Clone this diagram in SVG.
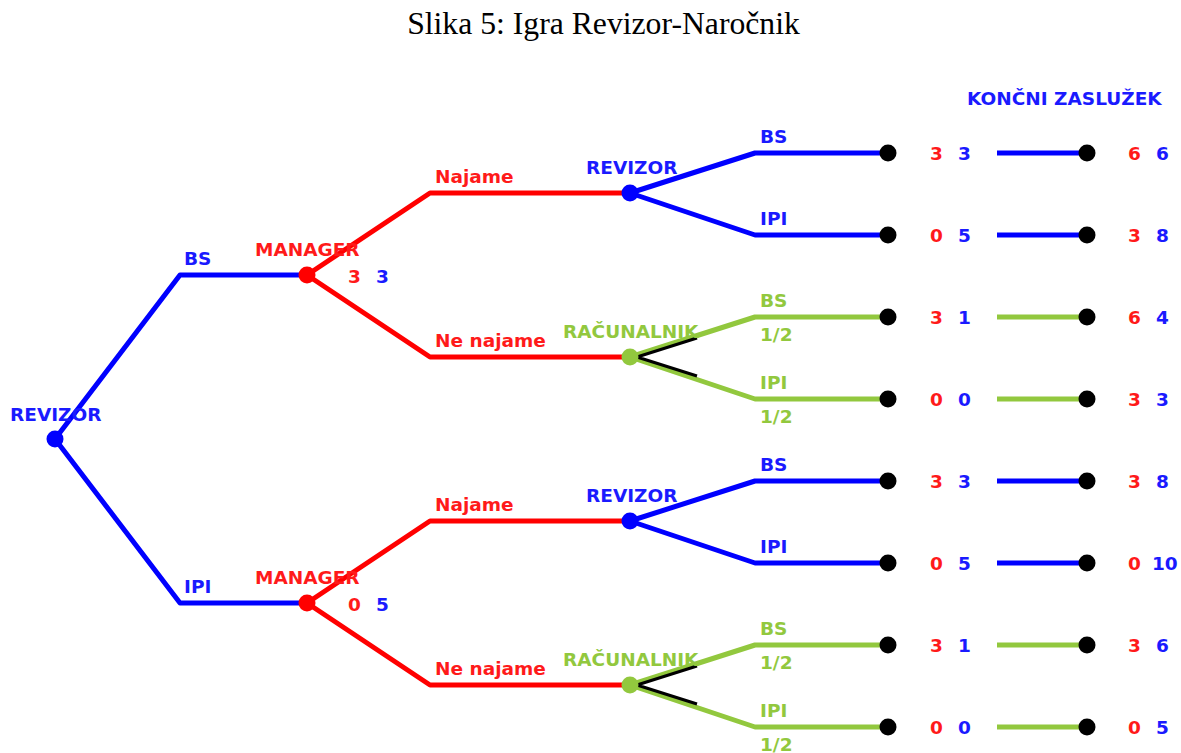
<svg xmlns="http://www.w3.org/2000/svg" width="1181" height="753" viewBox="0 0 1181 753">
<style>
.t{font-family:"DejaVu Sans",sans-serif;font-weight:bold;font-size:18.5px}
.b{fill:#1a1aff}.r{fill:#ff1a1a}.g{fill:#92c83e}
.lb{stroke:#0000ff;stroke-width:5;fill:none;stroke-linejoin:round}
.lr{stroke:#ff0000;stroke-width:5;fill:none;stroke-linejoin:round}
.lg{stroke:#92c83e;stroke-width:5;fill:none;stroke-linejoin:round}
.lk{stroke:#000;stroke-width:3;fill:none}
</style>
<rect width="1181" height="753" fill="#fff"/>
<text x="603.5" y="34" font-family="Liberation Serif,serif" font-size="31.7" text-anchor="middle">Slika 5: Igra Revizor-Naročnik</text>
<text class="t b" x="967" y="105">KONČNI ZASLUŽEK</text>
<g id="connectors">
<path class="lb" d="M55,439 L180,275 H307"/>
<path class="lb" d="M55,439 L180,603 H307"/>
<path class="lr" d="M307,275 L430,193 H630"/>
<path class="lr" d="M307,275 L430,357 H630"/>
<path class="lr" d="M307,603 L430,521 H630"/>
<path class="lr" d="M307,603 L430,685 H630"/>
<path class="lb" d="M630,193 L755,153 H888"/>
<path class="lb" d="M630,193 L755,235 H888"/>
<path class="lg" d="M630,357 L755,317 H888"/>
<path class="lg" d="M630,357 L755,399 H888"/>
<path class="lk" d="M637,357 L697,338 M637,357 L697,376"/>
<path class="lb" d="M630,521 L755,481 H888"/>
<path class="lb" d="M630,521 L755,563 H888"/>
<path class="lg" d="M630,685 L755,645 H888"/>
<path class="lg" d="M630,685 L755,727 H888"/>
<path class="lk" d="M637,685 L697,666 M637,685 L697,704"/>
<path class="lb" d="M997,153 H1087 M997,235 H1087 M997,481 H1087 M997,563 H1087"/>
<path class="lg" d="M997,317 H1087 M997,399 H1087 M997,645 H1087 M997,727 H1087"/>
</g>
<g id="root"><circle cx="55" cy="439" r="8.5" fill="#0000ff"/><text class="t b" x="10" y="421">REVIZOR</text></g>
<g id="edgeLabels">
<text class="t b" x="184" y="265">BS</text>
<text class="t b" x="184" y="593">IPI</text>
<text class="t r" x="435" y="183">Najame</text>
<text class="t r" x="435" y="347">Ne najame</text>
<text class="t r" x="435" y="511">Najame</text>
<text class="t r" x="435" y="675">Ne najame</text>
<text class="t b" x="760" y="143">BS</text>
<text class="t b" x="760" y="225">IPI</text>
<text class="t g" x="760" y="307">BS</text>
<text class="t g" x="760" y="341">1/2</text>
<text class="t g" x="760" y="389">IPI</text>
<text class="t g" x="760" y="423">1/2</text>
<text class="t b" x="760" y="471">BS</text>
<text class="t b" x="760" y="553">IPI</text>
<text class="t g" x="760" y="635">BS</text>
<text class="t g" x="760" y="669">1/2</text>
<text class="t g" x="760" y="717">IPI</text>
<text class="t g" x="760" y="751">1/2</text>
</g>
<g id="manager1"><circle cx="307" cy="275" r="8.5" fill="#ff0000"/><text class="t r" x="255" y="256">MANAGER</text><text class="t r" x="348" y="283">3</text><text class="t b" x="376" y="283">3</text></g>
<g id="manager2"><circle cx="307" cy="603" r="8.5" fill="#ff0000"/><text class="t r" x="255" y="584">MANAGER</text><text class="t r" x="348" y="611">0</text><text class="t b" x="376" y="611">5</text></g>
<g id="revizor1"><circle cx="630" cy="193" r="8.5" fill="#0000ff"/><text class="t b" x="586" y="174">REVIZOR</text></g>
<g id="racunalnik1"><circle cx="630" cy="357" r="8.5" fill="#92c83e"/><text class="t g" x="563" y="338">RAČUNALNIK</text></g>
<g id="revizor2"><circle cx="630" cy="521" r="8.5" fill="#0000ff"/><text class="t b" x="586" y="502">REVIZOR</text></g>
<g id="racunalnik2"><circle cx="630" cy="685" r="8.5" fill="#92c83e"/><text class="t g" x="563" y="666">RAČUNALNIK</text></g>
<g id="leaves" fill="#000">
<circle cx="888" cy="153" r="8.5"/><circle cx="888" cy="235" r="8.5"/><circle cx="888" cy="317" r="8.5"/><circle cx="888" cy="399" r="8.5"/>
<circle cx="888" cy="481" r="8.5"/><circle cx="888" cy="563" r="8.5"/><circle cx="888" cy="645" r="8.5"/><circle cx="888" cy="727" r="8.5"/>
<circle cx="1087" cy="153" r="8.5"/><circle cx="1087" cy="235" r="8.5"/><circle cx="1087" cy="317" r="8.5"/><circle cx="1087" cy="399" r="8.5"/>
<circle cx="1087" cy="481" r="8.5"/><circle cx="1087" cy="563" r="8.5"/><circle cx="1087" cy="645" r="8.5"/><circle cx="1087" cy="727" r="8.5"/>
</g>
<g id="payoffs">
<text class="t r" x="930" y="160">3</text><text class="t b" x="958" y="160">3</text>
<text class="t r" x="930" y="242">0</text><text class="t b" x="958" y="242">5</text>
<text class="t r" x="930" y="324">3</text><text class="t b" x="958" y="324">1</text>
<text class="t r" x="930" y="406">0</text><text class="t b" x="958" y="406">0</text>
<text class="t r" x="930" y="488">3</text><text class="t b" x="958" y="488">3</text>
<text class="t r" x="930" y="570">0</text><text class="t b" x="958" y="570">5</text>
<text class="t r" x="930" y="652">3</text><text class="t b" x="958" y="652">1</text>
<text class="t r" x="930" y="734">0</text><text class="t b" x="958" y="734">0</text>
</g>
<g id="final">
<text class="t r" x="1128" y="160">6</text><text class="t b" x="1156" y="160">6</text>
<text class="t r" x="1128" y="242">3</text><text class="t b" x="1156" y="242">8</text>
<text class="t r" x="1128" y="324">6</text><text class="t b" x="1156" y="324">4</text>
<text class="t r" x="1128" y="406">3</text><text class="t b" x="1156" y="406">3</text>
<text class="t r" x="1128" y="488">3</text><text class="t b" x="1156" y="488">8</text>
<text class="t r" x="1128" y="570">0</text><text class="t b" x="1152" y="570">10</text>
<text class="t r" x="1128" y="652">3</text><text class="t b" x="1156" y="652">6</text>
<text class="t r" x="1128" y="734">0</text><text class="t b" x="1156" y="734">5</text>
</g>
</svg>
